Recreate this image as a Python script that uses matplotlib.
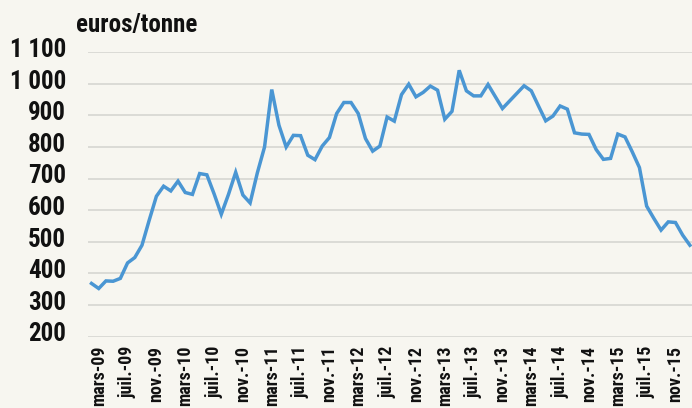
import matplotlib
matplotlib.use("Agg")
import matplotlib.pyplot as plt
import matplotlib.transforms as mtransforms
from matplotlib import font_manager

# ---------------- data ----------------
MONTH_NAMES = ["janv.", "févr.", "mars", "avr.", "mai", "juin",
               "juil.", "août", "sept.", "oct.", "nov.", "déc."]
# monthly series from févr.-09 to janv.-16
MONTHS = [f"{MONTH_NAMES[(1 + k) % 12]}-{(9 + (1 + k) // 12):02d}" for k in range(84)]

PRICES = [368, 352, 376, 375, 384, 433, 450, 489, 568, 644,
          676, 661, 692, 656, 650, 716, 712, 652, 587, 650,
          720, 648, 623, 718, 800, 982, 869, 800, 837, 836,
          774, 760, 803, 830, 906, 941, 941, 906, 827, 787,
          803, 895, 882, 966, 999, 959, 973, 993, 980, 888,
          913, 1043, 978, 962, 962, 998, 960, 922, 946, 970,
          994, 978, 930, 883, 898, 930, 920, 845, 841, 840,
          792, 761, 764, 841, 832, 785, 735, 613, 574, 537,
          563, 561, 521, 489]

XTICK_LABELS = ["mars-09", "juil.-09", "nov.-09",
                "mars-10", "juil.-10", "nov.-10",
                "mars-11", "juil.-11", "nov.-11",
                "mars-12", "juil.-12", "nov.-12",
                "mars-13", "juil.-13", "nov.-13",
                "mars-14", "juil.-14", "nov.-14",
                "mars-15", "juil.-15", "nov.-15"]
YTICKS = [200, 300, 400, 500, 600, 700, 800, 900, 1000, 1100]
YTICK_LABELS = ["200", "300", "400", "500", "600", "700", "800", "900", "1 000", "1 100"]
UNIT_LABEL = "euros/tonne"

# ---------------- font choice (a condensed face if one is installed) ----------------
def pick_font():
    entries = font_manager.fontManager.ttflist
    for name, ysz, xsz in [("Liberation Sans Narrow", 18.7, 12.3),
                           ("Roboto Condensed", 18.0, 13.0),
                           ("Open Sans Condensed", 17.0, 11.0)]:
        for f in entries:
            if f.name == name and f.weight in ("bold", 700, "semibold", 600):
                return font_manager.FontProperties(fname=f.fname), ysz, xsz
    for f in entries:
        if f.name == "DejaVu Sans" and "Condensed" in f.fname and "Bold" in f.fname \
                and "Oblique" not in f.fname:
            return font_manager.FontProperties(fname=f.fname), 14.6, 10.5
    return font_manager.FontProperties(family="DejaVu Sans", weight="bold"), 14.0, 9.4

FP, YSIZE, XSIZE = pick_font()

BG = "#F7F6F0"
LINE = "#4A96D3"
GRID = "#D3D3CF"
TXT = "#111111"

fig = plt.figure(figsize=(6.92, 4.08), dpi=100, facecolor=BG)
ax = fig.add_axes([87.9 / 692, (408 - 336.5) / 408, 605.6 / 692, (336.5 - 52.3) / 408])
ax.set_facecolor(BG)

x = list(range(len(PRICES)))
ax.plot(x, PRICES, color=LINE, lw=2.5, solid_joinstyle="miter", zorder=3, clip_on=False)

ax.set_xlim(-0.5, 83.5)
ax.set_ylim(200, 1100)
for v in YTICKS:
    ax.axhline(v, color=GRID, lw=1.1, zorder=1)

for s in ax.spines.values():
    s.set_visible(False)

tick_pos = [MONTHS.index(l) for l in XTICK_LABELS]
ax.set_xticks(tick_pos)
ax.set_xticklabels(XTICK_LABELS, rotation=90, va="top", ha="center")
for lab in ax.get_xticklabels():
    lab.set_fontproperties(FP)
    lab.set_fontsize(XSIZE)
    lab.set_color(TXT)
ax.tick_params(axis="x", length=0, pad=6.8)

ax.set_yticks([])
trans = mtransforms.offset_copy(ax.get_yaxis_transform(), fig=fig, y=-3.45, units="points")
for v, lab in zip(YTICKS, YTICK_LABELS):
    ax.text(-0.0362, v, lab, transform=trans, ha="right", va="baseline",
            fontproperties=FP, fontsize=YSIZE, color=TXT)

fig.text(76 / 692, (408 - 32.3) / 408, UNIT_LABEL, ha="left", va="baseline",
         fontproperties=FP, fontsize=YSIZE, color=TXT)

fig.savefig("out.png", dpi=100, facecolor=BG)
